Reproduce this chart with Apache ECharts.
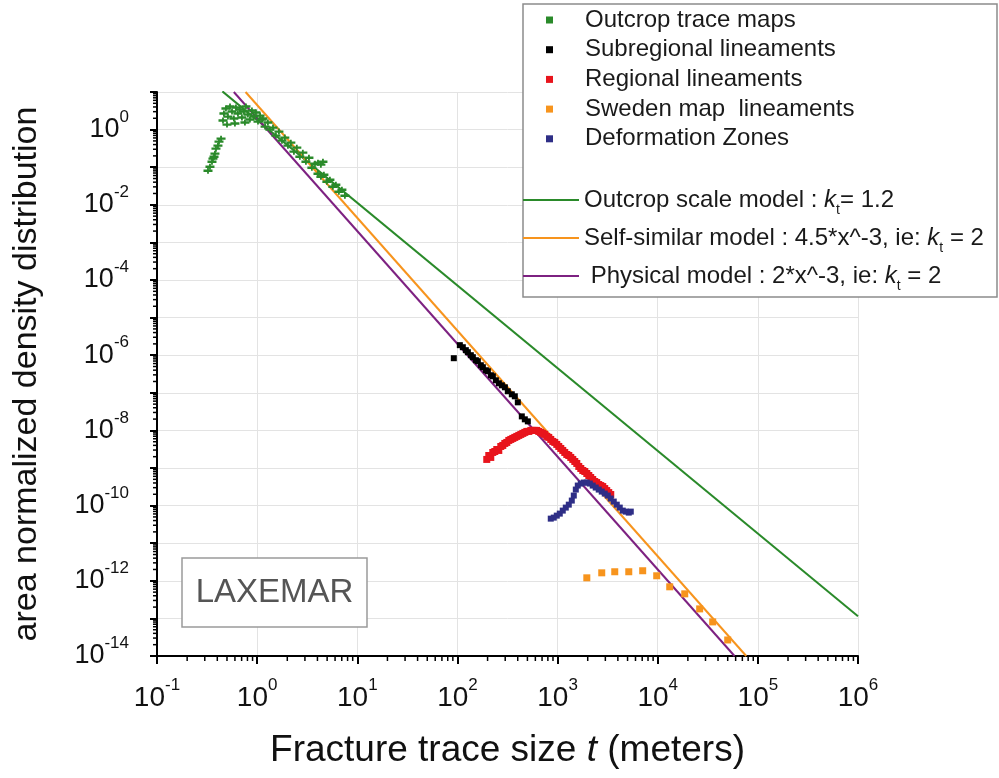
<!DOCTYPE html>
<html><head><meta charset="utf-8">
<script src="https://cdn.jsdelivr.net/npm/echarts@6/dist/echarts.min.js"></script>
<style>html,body{margin:0;padding:0;background:#fff}#c{width:999px;height:778px}</style>
</head><body><div id="c"></div>
<script>
const F = '"Liberation Sans", Arial, sans-serif';

// ---- data (x = trace size in metres, y = area normalized density) ----
const outcropTrace = [
  [0.323,0.0807],[0.338,0.103],[0.354,0.140],[0.362,0.169],[0.371,0.19],[0.379,0.229],[0.388,0.311],[0.406,0.374],[0.416,0.479],[0.436,0.575],
  [0.456,1.74],[0.466,2.67],[0.488,3.63],[0.511,2.22],[0.536,4.10],[0.561,3.02],[0.586,1.97],[0.614,3.86],[0.643,2.67],[0.673,3.41],
  [0.705,2.09],[0.738,3.02],[0.773,4.10],[0.809,2.51],[0.847,1.85],[0.887,3.21],[0.929,2.22],[0.973,2.84],[1.02,1.63],[1.07,2.36],
  [1.12,1.85],[0.5,1.36],[0.600,1.45],[0.755,1.54],
  [1.14,1.97],[1.20,1.20],[1.28,1.54],[1.34,1.0],[1.44,1.13],[1.54,0.692],[1.65,0.885],[1.77,0.509],[1.89,0.612],[2.03,0.374],
  [2.17,0.450],[2.33,0.259],[2.49,0.331],[2.67,0.19],[2.86,0.244],[3.07,0.140],[3.29,0.179],[3.52,0.097],[3.78,0.124],[4.05,0.132],
  [4.33,0.117],[4.54,0.140],[4.05,0.0671],[4.33,0.0558],[4.64,0.0631],[4.97,0.041],[5.33,0.0464],[5.70,0.0302],[6.11,0.0341],
  [6.55,0.0222],[7.02,0.0251],[7.52,0.0174]
];
const subregional = [
  [92.0,8.32e-7],[105.7,1.85e-6],[113.2,1.63e-6],[121.3,1.36e-6],[127.1,1.20e-6],[136.1,1.0e-6],[142.6,8.85e-7],[152.8,7.36e-7],
  [159.9,6.92e-7],[171.3,5.41e-7],[179.5,4.79e-7],[192.3,3.98e-7],[201.4,3.74e-7],[215.8,2.93e-7],[225.9,2.75e-7],[242.1,2.15e-7],
  [259.4,1.79e-7],[277.9,1.58e-7],[297.8,1.40e-7],[318.4,1.10e-7],[349.1,9.12e-8],[374.1,8.07e-8],[400.9,5.58e-8],[439.5,2.36e-8],
  [470.9,1.97e-8],[504.6,1.74e-8]
];
const regional = [
  [196.3,1.69e-9],[205.6,2.15e-9],[215.3,1.91e-9],[225.4,2.59e-9],[236.1,2.75e-9],[247.2,3.11e-9],[258.8,2.93e-9],[271.0,3.74e-9],
  [283.8,3.98e-9],[297.2,4.50e-9],[311.2,4.79e-9],[325.8,5.41e-9],[341.2,5.75e-9],[357.3,6.12e-9],[374.1,6.51e-9],[391.7,6.92e-9],
  [410.2,7.36e-9],[429.5,7.82e-9],[449.8,8.32e-9],[470.9,8.85e-9],[493.1,9.40e-9],[516.4,9.40e-9],[540.7,1.0e-8],[566.2,1.0e-8],
  [592.2,1.0e-8],[619.4,1.0e-8],[648.6,9.40e-9],[679.2,8.85e-9],[711.2,8.32e-9],[744.7,7.82e-9],[779.8,6.92e-9],[816.6,6.51e-9],
  [855.1,5.75e-9],[895.4,5.09e-9],[937.6,4.79e-9],[981.8,4.24e-9],[1028,3.74e-9],[1077,3.31e-9],[1127,2.93e-9],[1180,2.59e-9],
  [1236,2.29e-9],[1294,2.15e-9],[1355,1.91e-9],[1419,1.69e-9],[1486,1.49e-9],[1556,1.32e-9],[1629,1.10e-9],[1706,9.70e-10],
  [1786,8.58e-10],[1871,8.07e-10],[1959,7.13e-10],[2051,6.31e-10],[2143,5.58e-10],[2244,4.94e-10],[2350,4.37e-10],[2460,4.10e-10],
  [2576,3.63e-10],[2698,3.41e-10],[2825,3.21e-10],[2958,2.84e-10],[3097,2.51e-10],[3243,2.22e-10],[3396,1.97e-10]
];
const swedenMap = [
  [1959,1.20e-12],[2761,1.63e-12],[3724,1.74e-12],[5140,1.74e-12],[7079,1.85e-12],[9772,1.36e-12],
  [13180,6.92e-13],[18620,4.50e-13],[26240,1.79e-13],[35400,8.07e-14],[50000,2.67e-14]
];
const deformationZones = [
  [855.1,4.50e-11],[916.2,4.79e-11],[981.8,5.41e-11],[1052,6.12e-11],[1127,7.36e-11],[1208,8.85e-11],[1294,1.06e-10],
  [1387,1.36e-10],[1452,1.85e-10],[1521,2.67e-10],[1592,3.41e-10],[1706,3.86e-10],[1828,4.10e-10],[1959,4.10e-10],
  [2099,3.86e-10],[2244,3.41e-10],[2404,3.02e-10],[2576,2.67e-10],[2761,2.36e-10],[2958,2.09e-10],[3170,1.85e-10],
  [3396,1.54e-10],[3639,1.28e-10],[3899,1.06e-10],[4178,8.85e-11],[4477,7.36e-11],[4797,6.92e-11],[5140,6.51e-11],[5383,6.92e-11]
];
// model lines (end points of the straight log-log lines)
const outcropModel = [[0.45,10.4],[1e6,1.14e-13]];
const selfSimilarModel = [[0.766,10],[76600,1e-14]];
const physicalModel = [[0.585,10],[58500,1e-14]];

// axis minor ticks (2..9 within each decade)
const xMinorTicks = [];
for (let k = -1; k < 6; k++) for (let m = 2; m < 10; m++) xMinorTicks.push(m * Math.pow(10, k));
const yMinorTicks = [];
for (let k = -14; k < 1; k++) for (let m = 2; m < 10; m++) yMinorTicks.push(m * Math.pow(10, k));

const names = {
  s1: 'Outcrop trace maps', s2: 'Subregional lineaments', s3: 'Regional lineaments',
  s4: 'Sweden map  lineaments', s5: 'Deformation Zones',
  l1: 'Outcrop scale model', l2: 'Self-similar model', l3: 'Physical model'
};
const legendText = {};
legendText[names.l1] = 'Outcrop scale model : {i|k}{sub|t}= 1.2';
legendText[names.l2] = 'Self-similar model : 4.5*x^-3, ie: {i|k}{sub|t} = 2';
legendText[names.l3] = ' Physical model : 2*x^-3, ie: {i|k}{sub|t} = 2';

const supRich = (size, sup) => ({
  b: {fontSize: size, fontFamily: F, color: '#111', lineHeight: 42},
  s: {fontSize: sup, fontFamily: F, color: '#111', verticalAlign: 'top', lineHeight: 17}
});
const expOf = v => Math.round(Math.log10(v));
const LF = 24;

const chart = echarts.init(document.getElementById('c'));
chart.setOption({
  backgroundColor: '#fff',
  animation: false,
  grid: {left: 157, right: 141, top: 92, bottom: 122, containLabel: false},
  xAxis: {
    type: 'log', logBase: 10, min: 0.1, max: 1e6, interval: 1,
    name: 'Fracture trace size {i|t} (meters)', nameLocation: 'middle', nameGap: 76,
    nameTextStyle: {fontSize: 37, fontFamily: F, color: '#111',
      rich: {i: {fontSize: 37, fontFamily: F, fontStyle: 'italic', color: '#111'}}},
    axisLine: {show: true, lineStyle: {color: '#000', width: 2}},
    axisTick: {show: true, length: 8, lineStyle: {color: '#000', width: 2}},
    axisLabel: {margin: 21, formatter: v => '{b|10}{s|' + expOf(v) + '}', rich: supRich(28, 17)},
    splitLine: {show: true, lineStyle: {color: '#e3e3e3', width: 1}},
    minorTick: {show: false}
  },
  yAxis: {
    type: 'log', logBase: 10, min: 1e-14, max: 10, interval: 1,
    name: 'area normalized density distribution', nameLocation: 'middle', nameGap: 113,
    nameTextStyle: {fontSize: 34, fontFamily: F, color: '#111'},
    axisLine: {show: true, lineStyle: {color: '#000', width: 2}},
    axisTick: {show: true, length: 7, lineStyle: {color: '#000', width: 2}},
    axisLabel: {margin: 28, formatter: v => { const e = expOf(v); return e % 2 !== 0 ? '' : '{b|10}{s|' + e + '}'; }, rich: supRich(27, 17)},
    splitLine: {show: true, lineStyle: {color: '#e3e3e3', width: 1}}
  },
  legend: [
    {
      orient: 'vertical', left: 541, top: 2, itemWidth: 7, itemHeight: 7, itemGap: 3.7, z: 20,
      icon: 'rect', selectedMode: false,
      data: [names.s1, names.s2, names.s3, names.s4, names.s5],
      textStyle: {fontSize: LF, fontFamily: F, color: '#1a1a1a', lineHeight: 26, padding: [0, 0, 0, 27]}
    },
    {
      orient: 'vertical', left: 518, top: 178, itemWidth: 56, itemHeight: 2, itemGap: 4, z: 20,
      icon: 'rect', selectedMode: false,
      data: [names.l1, names.l2, names.l3],
      formatter: n => legendText[n],
      textStyle: {fontSize: LF, fontFamily: F, color: '#1a1a1a', lineHeight: 34,
        rich: {
          i: {fontSize: LF, fontFamily: F, fontStyle: 'italic', color: '#1a1a1a', lineHeight: 34},
          sub: {fontSize: 14, fontFamily: F, color: '#1a1a1a', verticalAlign: 'bottom', lineHeight: 10}
        }}
    }
  ],
  graphic: [
    {type: 'rect', z: 5, shape: {x: 523, y: 4, width: 474, height: 293},
      style: {fill: '#fff', stroke: '#8c8c8c', lineWidth: 1.5}},
    {type: 'rect', z: 5, shape: {x: 182, y: 558, width: 185, height: 69},
      style: {fill: '#fff', stroke: '#9a9a9a', lineWidth: 1.5}},
    {type: 'text', z: 6, x: 274.5, y: 593,
      style: {text: 'LAXEMAR', fontSize: 33, fontFamily: F, fill: '#555', textAlign: 'center', textVerticalAlign: 'middle'}}
  ],
  series: [
    {type: 'custom', silent: true, z: 1, data: xMinorTicks.map(v => [v, 1e-14]),
      renderItem: (p, api) => { const c = api.coord([api.value(0), api.value(1)]);
        return {type: 'line', shape: {x1: c[0], y1: c[1], x2: c[0], y2: c[1] + 5}, style: {stroke: '#000', lineWidth: 1.5}}; }},
    {type: 'custom', silent: true, z: 1, data: yMinorTicks.map(v => [0.1, v]),
      renderItem: (p, api) => { const c = api.coord([api.value(0), api.value(1)]);
        return {type: 'line', shape: {x1: c[0] - 4, y1: c[1], x2: c[0], y2: c[1]}, style: {stroke: '#000', lineWidth: 1.5}}; }},
    {name: names.l1, type: 'line', data: outcropModel, symbol: 'none', lineStyle: {color: '#2a8a2a', width: 2}, itemStyle: {color: '#2a8a2a'}, z: 3},
    {name: names.l2, type: 'line', data: selfSimilarModel, symbol: 'none', lineStyle: {color: '#f7941d', width: 2}, itemStyle: {color: '#f7941d'}, z: 3},
    {name: names.l3, type: 'line', data: physicalModel, symbol: 'none', lineStyle: {color: '#7d2181', width: 2}, itemStyle: {color: '#7d2181'}, z: 3},
    {name: names.s1, type: 'scatter', data: outcropTrace, symbol: 'path://M0,1.5H10V3.5H0Z M4,0H6V5H4Z', symbolSize: [9, 6],
      itemStyle: {color: '#2a8a2a', opacity: 1}, z: 4},
    {name: names.s2, type: 'scatter', data: subregional, symbol: 'rect', symbolSize: 6, itemStyle: {color: '#000', opacity: 1}, z: 4},
    {name: names.s3, type: 'scatter', data: regional, symbol: 'rect', symbolSize: 7, itemStyle: {color: '#e8141c', opacity: 1}, z: 4},
    {name: names.s4, type: 'scatter', data: swedenMap, symbol: 'rect', symbolSize: 7, itemStyle: {color: '#f7941d', opacity: 1}, z: 4},
    {name: names.s5, type: 'scatter', data: deformationZones, symbol: 'rect', symbolSize: 6, itemStyle: {color: '#2e2e86', opacity: 1}, z: 4}
  ]
});
</script>
</body></html>
